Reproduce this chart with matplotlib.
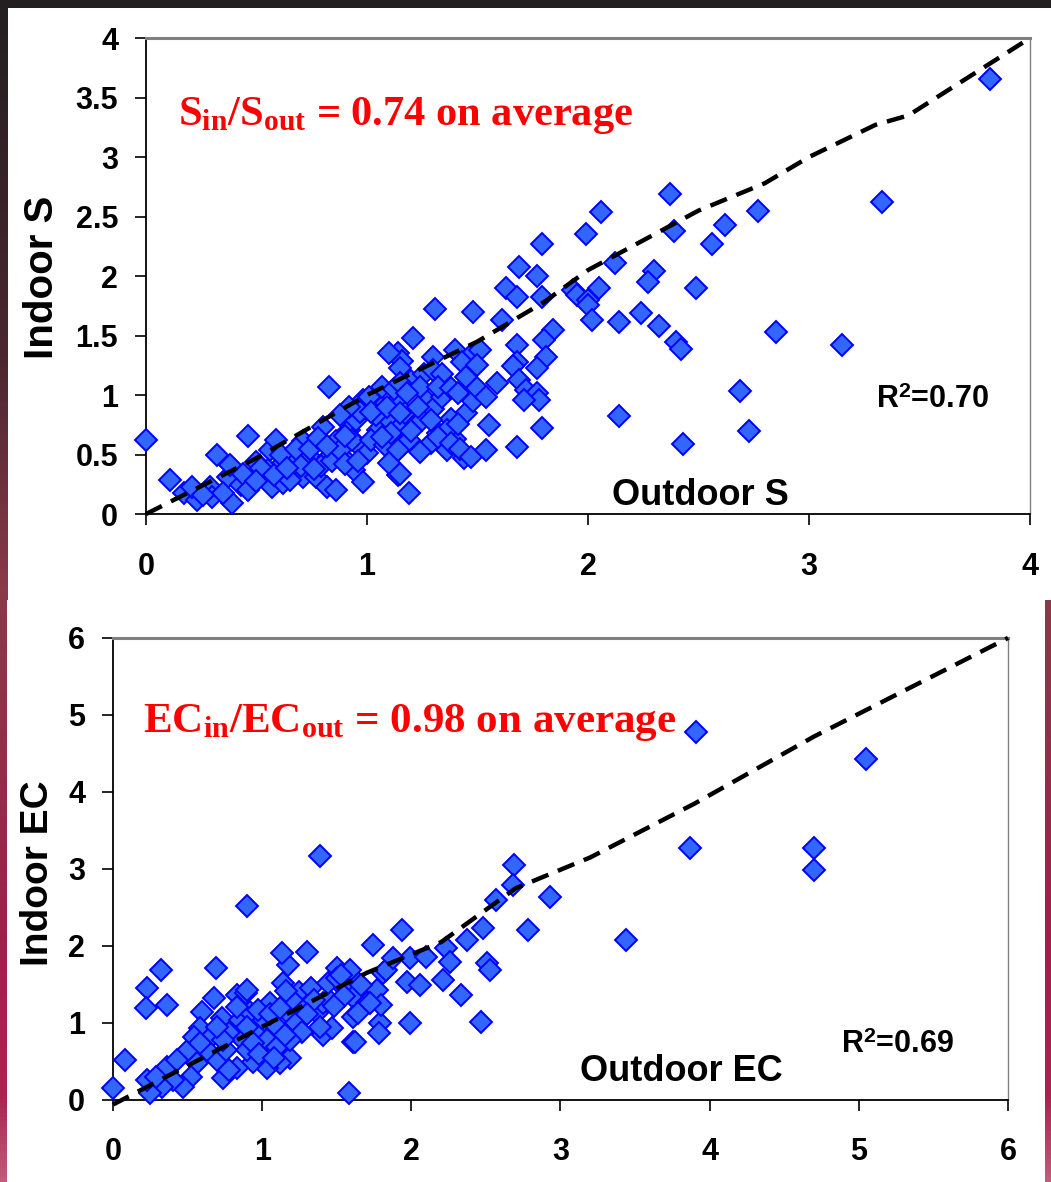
import matplotlib
matplotlib.use("Agg")
import matplotlib.pyplot as plt
import numpy as np
from matplotlib.colors import LinearSegmentedColormap
from matplotlib.patches import Rectangle

# ---- data ----
s_pts = [
    (0.00, 0.62), (0.46, 0.66), (0.11, 0.29), (0.17, 0.18), (0.23, 0.12), (0.21, 0.23),
    (0.29, 0.23), (0.32, 0.50), (0.30, 0.14), (0.37, 0.31), (0.39, 0.09), (0.43, 0.24),
    (0.44, 0.34), (0.38, 0.41), (0.50, 0.44), (0.56, 0.54), (0.59, 0.62), (0.55, 0.37),
    (0.62, 0.43), (0.67, 0.48), (0.57, 0.23), (0.62, 0.26), (0.71, 0.61), (0.74, 0.48),
    (0.71, 0.31), (0.77, 0.31), (0.82, 0.23), (0.86, 0.20), (0.80, 0.73), (0.83, 0.48),
    (0.89, 0.48), (0.86, 0.61), (0.92, 0.71), (0.95, 0.79), (0.98, 0.96), (1.01, 0.98),
    (0.94, 0.37), (0.98, 0.27), (0.95, 0.60), (1.00, 0.51), (1.05, 0.71), (1.10, 0.79),
    (1.07, 0.90), (1.14, 0.96), (1.15, 0.73), (1.14, 0.54), (1.19, 0.62), (1.25, 0.79),
    (1.29, 0.60), (1.32, 0.68), (1.36, 0.54), (1.45, 0.85), (1.14, 0.33), (1.19, 0.18),
    (0.83, 1.07), (1.07, 1.07),
    (0.52, 0.39), (0.61, 0.50), (0.65, 0.29), (0.68, 0.55), (0.70, 0.40), (0.74, 0.55),
    (0.78, 0.64), (0.79, 0.40), (0.84, 0.45), (0.88, 0.54), (0.90, 0.42), (0.93, 0.62),
    (0.97, 0.86), (0.46, 0.20), (0.35, 0.18), (0.26, 0.16), (0.50, 0.28), (0.58, 0.33),
    (0.64, 0.39), (0.76, 0.38), (0.82, 0.57), (0.90, 0.66), (0.96, 0.45), (1.02, 0.62),
    (1.04, 0.83), (1.08, 0.58), (1.11, 0.68), (1.17, 0.85), (1.20, 0.70), (1.24, 0.52),
    (1.27, 0.95), (1.30, 0.88), (1.34, 0.98), (1.38, 0.80), (1.40, 0.63), (1.44, 0.47),
    (1.48, 0.95), (1.12, 1.05), (1.20, 1.12), (1.26, 1.18), (1.02, 0.86), (0.92, 0.90),
    (0.88, 0.83),
    (1.63, 1.90), (1.68, 1.82), (1.79, 1.82), (1.93, 1.88), (1.95, 1.84), (2.00, 1.80),
    (2.05, 1.90), (2.00, 1.76), (2.02, 1.63), (1.48, 1.70), (1.61, 1.63), (2.24, 1.69),
    (2.32, 1.58), (2.14, 1.61), (2.40, 1.45), (2.42, 1.39), (1.21, 1.48), (1.14, 1.35),
    (1.16, 1.29), (1.15, 1.23), (1.30, 1.32), (1.40, 1.38), (1.47, 1.34), (1.51, 1.38),
    (1.43, 1.28), (1.50, 1.25), (1.68, 1.42), (1.84, 1.55), (1.80, 1.46), (1.81, 1.32),
    (1.68, 1.28), (1.66, 1.24), (1.77, 1.23), (1.30, 1.21), (1.34, 1.18), (1.24, 1.07),
    (1.32, 1.07), (1.38, 1.06), (1.41, 1.02), (1.45, 1.15), (1.50, 1.06), (1.54, 0.98),
    (1.59, 1.10), (1.69, 1.13), (1.72, 1.04), (1.77, 1.02), (1.78, 0.96), (1.71, 0.96),
    (1.10, 1.35), (1.15, 1.10), (1.18, 1.02), (1.09, 0.90), (1.15, 0.85), (1.23, 0.90),
    (1.29, 0.79), (1.36, 0.71), (1.41, 0.76), (1.32, 0.65), (1.38, 0.60), (1.42, 0.55),
    (1.47, 0.48), (1.54, 0.54), (1.55, 0.75), (1.68, 0.56), (1.79, 0.72), (1.14, 0.54),
    (1.10, 0.43), (1.15, 0.34), (1.07, 0.65), (1.31, 1.72),
    (3.82, 3.66), (3.33, 2.62), (3.15, 1.42), (2.85, 1.53), (2.69, 1.03), (2.73, 0.70),
    (2.43, 0.59), (2.14, 0.82), (2.37, 2.69), (2.39, 2.38), (2.06, 2.54), (2.77, 2.55),
    (2.62, 2.43), (2.56, 2.27), (2.49, 1.90), (2.30, 2.04), (2.27, 1.95), (1.99, 2.35),
    (1.79, 2.27), (1.69, 2.08), (1.77, 2.00), (2.12, 2.11),
]
s_out = [p[0] for p in s_pts]
s_in = [p[1] for p in s_pts]

ec_pts = [
    (0.00, 0.15), (0.08, 0.52), (0.32, 1.69), (0.23, 1.45), (0.22, 1.19), (0.36, 1.23),
    (0.69, 1.71), (0.68, 1.32), (0.83, 1.36), (0.89, 1.39), (0.60, 1.14), (0.73, 1.06),
    (0.85, 1.04), (0.92, 1.14), (0.58, 0.94), (0.65, 0.81), (0.78, 0.87), (0.87, 0.78),
    (0.97, 0.91), (1.05, 1.26), (1.14, 1.52), (1.17, 1.75), (1.13, 1.91), (1.30, 1.92),
    (1.01, 1.04), (1.10, 0.95), (1.19, 1.10), (1.23, 1.00), (1.27, 1.26), (1.37, 1.13),
    (1.41, 1.26), (1.45, 1.30), (1.50, 1.71), (1.57, 1.60), (1.64, 1.52), (1.54, 1.47),
    (1.61, 1.34), (1.70, 1.26), (1.77, 1.43), (1.81, 1.65), (1.79, 1.00), (1.78, 0.87),
    (1.61, 1.08), (1.61, 0.75), (1.99, 1.00), (1.97, 1.53), (2.06, 1.49), (1.99, 1.84),
    (2.10, 1.86), (1.58, 0.09), (1.41, 0.84), (1.47, 0.94), (1.27, 0.88), (1.39, 0.95),
    (1.19, 0.55), (1.12, 0.48), (1.03, 0.41), (0.94, 0.49), (0.90, 0.65), (0.83, 0.41),
    (0.74, 0.29), (0.70, 0.52), (0.63, 0.65), (0.56, 0.48), (0.52, 0.30), (0.47, 0.17),
    (0.40, 0.26), (0.36, 0.43), (0.33, 0.17), (0.25, 0.09), (0.23, 0.26), (0.29, 0.30),
    (0.50, 0.65), (0.43, 0.52), (0.54, 0.82), (0.58, 0.74), (0.76, 0.65), (0.78, 0.39),
    (0.90, 0.95), (0.74, 0.78), (1.03, 0.78), (1.10, 0.69), (1.19, 0.78), (0.94, 0.74),
    (0.97, 1.17), (0.83, 1.21), (0.70, 0.95), (0.90, 1.43),
    (1.25, 1.40), (1.33, 1.45), (1.44, 1.52), (1.50, 1.58), (1.55, 1.35), (1.48, 1.22),
    (1.35, 1.30), (1.30, 1.12), (1.20, 1.30), (1.16, 1.42), (1.05, 1.12), (1.12, 1.20),
    (0.98, 0.60), (1.08, 0.55), (1.15, 0.85), (1.66, 1.49), (1.83, 1.69), (1.80, 1.23),
    (1.59, 1.69), (1.53, 1.62),
    (2.69, 3.05), (2.68, 2.79), (2.57, 2.60), (2.93, 2.64), (2.78, 2.21), (3.44, 2.08),
    (2.48, 2.23), (2.37, 2.08), (1.94, 2.21), (1.74, 2.01), (2.23, 1.97), (2.26, 1.79),
    (2.51, 1.78), (2.53, 1.69), (1.88, 1.84), (2.21, 1.56), (2.33, 1.36), (2.47, 1.01),
    (1.62, 0.75), (1.64, 1.13), (1.72, 1.26),
    (3.91, 4.78), (5.05, 4.43), (3.87, 3.27), (4.70, 3.27), (4.70, 2.98), (1.39, 3.17),
    (0.90, 2.52),
]
ec_out = [p[0] for p in ec_pts]
ec_in = [p[1] for p in ec_pts]

# dashed reference lines (nodes)
s_line_x = [0, 0.5, 1.0, 1.5, 1.8, 2.0, 2.5, 2.8, 3.0, 3.3, 3.45, 4.0]
s_line_y = [0, 0.47, 1.0, 1.45, 1.78, 2.05, 2.55, 2.78, 3.0, 3.27, 3.35, 4.0]
ec_line_x = [0, 1.0, 1.7, 2.2, 2.7, 3.2, 3.9, 4.7, 6.0]
ec_line_y = [-0.06, 0.95, 1.65, 2.05, 2.75, 3.15, 3.85, 4.72, 6.0]

s_ticks = [0, 0.5, 1, 1.5, 2, 2.5, 3, 3.5, 4]
s_ticklabels = ['0', '0.5', '1', '1.5', '2', '2.5', '3', '3.5', '4']
s_xticks = [0, 1, 2, 3, 4]
ec_ticks = [0, 1, 2, 3, 4, 5, 6]

plt.rcParams['font.family'] = 'Liberation Sans'
plt.rcParams['font.weight'] = 'bold'
plt.rcParams['mathtext.fontset'] = 'custom'
plt.rcParams['mathtext.rm'] = 'Liberation Serif:bold'
plt.rcParams['mathtext.it'] = 'Liberation Serif:bold'
plt.rcParams['mathtext.bf'] = 'Liberation Sans:bold'
plt.rcParams['mathtext.default'] = 'rm'

fig = plt.figure(figsize=(10.51, 11.82), dpi=100)

# slide background
bg = fig.add_axes([0, 0, 1, 1], zorder=-10)
cmap = LinearSegmentedColormap.from_list(
    'slide', [(0, '#231f20'), (0.3, '#4a2630'), (0.5, '#8a3a48'),
              (0.8, '#a21e4c'), (0.93, '#aa2452'), (1.0, '#c45a7a')])
grad = np.linspace(0, 1, 256).reshape(-1, 1)
bg.imshow(grad, aspect='auto', cmap=cmap, extent=[0, 1, 0, 1], origin='upper')
bg.add_patch(Rectangle((0.0076, 0.4924), 0.9924, 0.5008, color='white', lw=0))
bg.add_patch(Rectangle((0.0067, 0.0), 0.9876, 0.4924, color='white', lw=0))
bg.set_xlim(0, 1)
bg.set_ylim(0, 1)
bg.axis('off')

ax1 = fig.add_axes([0.1389, 0.5651, 0.8411, 0.4027])
ax2 = fig.add_axes([0.1075, 0.0694, 0.8516, 0.3909])

marker_kw = dict(ls='none', marker='D', ms=10.8, mfc='#3366ff', mec='#0000ff',
                 mew=1.4, clip_on=False, zorder=3)
line_kw = dict(color='black', lw=3.2, dashes=(4.0, 2.3), zorder=4, clip_on=False)

ax1.plot(s_out, s_in, **marker_kw)
ax1.plot(s_line_x, s_line_y, **line_kw)
ax1.set_xlim(0, 4)
ax1.set_ylim(0, 4)
ax1.set_xticks(s_xticks)
ax1.set_yticks(s_ticks)
ax1.set_yticklabels(s_ticklabels)

ax2.plot(ec_out, ec_in, **marker_kw)
ax2.plot(ec_line_x, ec_line_y, **line_kw)
ax2.set_xlim(0, 6)
ax2.set_ylim(0, 6)
ax2.set_xticks(ec_ticks)
ax2.set_yticks(ec_ticks)

for ax in (ax1, ax2):
    ax.set_facecolor('white')
    ax.spines['top'].set_color('#808080')
    ax.spines['top'].set_linewidth(2.2)
    ax.spines['right'].set_color('#808080')
    ax.spines['right'].set_linewidth(1.0)
    ax.spines['left'].set_linewidth(1.3)
    ax.spines['bottom'].set_linewidth(1.3)
    ax.tick_params(direction='out', length=8, width=1.2, labelsize=22)
    ax.tick_params(axis='x', pad=19)
    ax.tick_params(axis='y', pad=12)

# annotations
ax1.text(0.036, 0.838, r'$S_{in}/S_{out}$ = 0.74 on average', transform=ax1.transAxes,
         color='red', fontsize=30.5, family='Liberation Serif', fontweight='bold',
         ha='left', va='center')
ax1.text(0.627, 0.04, 'Outdoor S', transform=ax1.transAxes, fontsize=26,
         ha='center', va='center')
ax1.text(0.89, 0.24, r'R$^{\mathbf{2}}$=0.70', transform=ax1.transAxes, fontsize=22,
         ha='center', va='center')
fig.text(0.04, 0.7657, 'Indoor S', rotation=90, fontsize=29, ha='center', va='center')

ax2.text(0.034, 0.818, r'$EC_{in}/EC_{out}$ = 0.98 on average', transform=ax2.transAxes,
         color='red', fontsize=31, family='Liberation Serif', fontweight='bold',
         ha='left', va='center')
ax2.text(0.635, 0.061, 'Outdoor EC', transform=ax2.transAxes, fontsize=26,
         ha='center', va='center')
ax2.text(0.876, 0.119, r'R$^{\mathbf{2}}$=0.69', transform=ax2.transAxes, fontsize=22,
         ha='center', va='center')
fig.text(0.036, 0.2614, 'Indoor EC', rotation=90, fontsize=28, ha='center', va='center')

fig.savefig('out.png', dpi=100)
